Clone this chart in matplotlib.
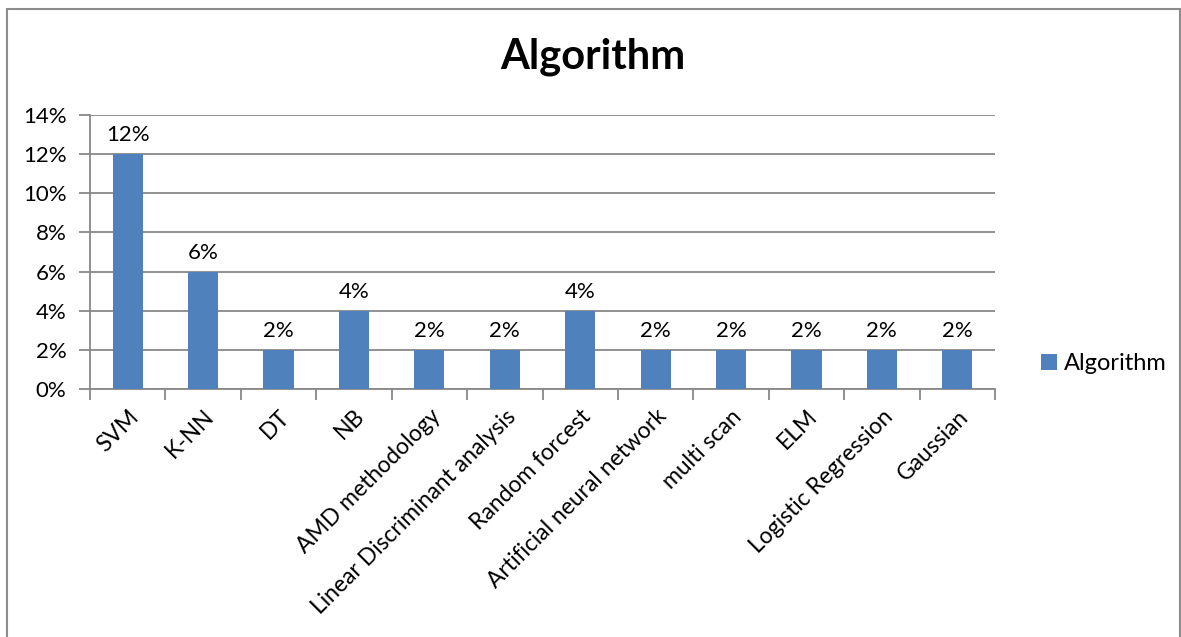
import matplotlib.pyplot as plt
from matplotlib.patches import Rectangle
from matplotlib.ticker import FuncFormatter

algorithms = ["SVM", "K-NN", "DT", "NB", "AMD methodology",
              "Linear Discriminant analysis", "Random forcest",
              "Artificial neural network", "multi scan", "ELM",
              "Logistic Regression", "Gaussian"]
share = [12, 6, 2, 4, 2, 2, 4, 2, 2, 2, 2, 2]

plt.rcParams['font.family'] = ['Lato', 'DejaVu Sans']
bar_color = '#4F81BD'
grid_color = '#888888'

fig = plt.figure(figsize=(11.81, 6.37), dpi=100)
W, H = 1181, 637
ax = fig.add_axes([90 / W, 1 - 389 / H, (995 - 90) / W, (389 - 115) / H])

x = list(range(len(algorithms)))
bars = ax.bar(x, share, width=0.4, color=bar_color, label='Algorithm', zorder=3)
for b, v in zip(bars, share):
    ax.text(b.get_x() + b.get_width() / 2, v + 0.45, f"{v}%",
            ha='center', va='bottom', fontsize=16)

ax.set_xlim(-0.5, len(algorithms) - 0.5)
ax.set_ylim(0, 14)
ax.set_yticks(range(0, 15, 2))
ax.yaxis.set_major_formatter(FuncFormatter(lambda v, p: f"{int(v)}%"))
ax.grid(axis='y', color=grid_color, linewidth=1.3, zorder=0)

# category ticks sit between the bars, labels under the bars
ax.set_xticks([i - 0.5 for i in range(len(algorithms) + 1)])
ax.set_xticklabels([])
ax.set_xticks(x, minor=True)
ax.set_xticklabels(algorithms, minor=True, rotation=45, ha='right', va='top',
                   rotation_mode='anchor', fontsize=16.5)
ax.tick_params(axis='x', which='minor', length=0, pad=12)
ax.tick_params(axis='x', which='major', length=8, width=1.3, color=grid_color)
ax.tick_params(axis='y', length=8, width=1.3, color=grid_color, labelsize=16, pad=9)

for side in ['top', 'right']:
    ax.spines[side].set_visible(False)
for side in ['left', 'bottom']:
    ax.spines[side].set_color(grid_color)
    ax.spines[side].set_linewidth(1.3)

fig.text(593 / W, 1 - 57 / H, "Algorithm", ha='center', va='center',
         fontsize=30, fontweight='bold')

fig.legend(handles=[bars], labels=['Algorithm'], loc='center left',
           bbox_to_anchor=(1020 / W, 1 - 364 / H), frameon=False,
           fontsize=17, handlelength=0.65, handleheight=0.65, handletextpad=0.3)

# outer chart frame
fig.add_artist(Rectangle((7 / W, -0.05), (1180 - 7) / W, 1.05 - 9 / H,
                         transform=fig.transFigure, fill=False,
                         edgecolor='#8c8c8c', linewidth=1.5))

fig.savefig("out.png", dpi=100)
